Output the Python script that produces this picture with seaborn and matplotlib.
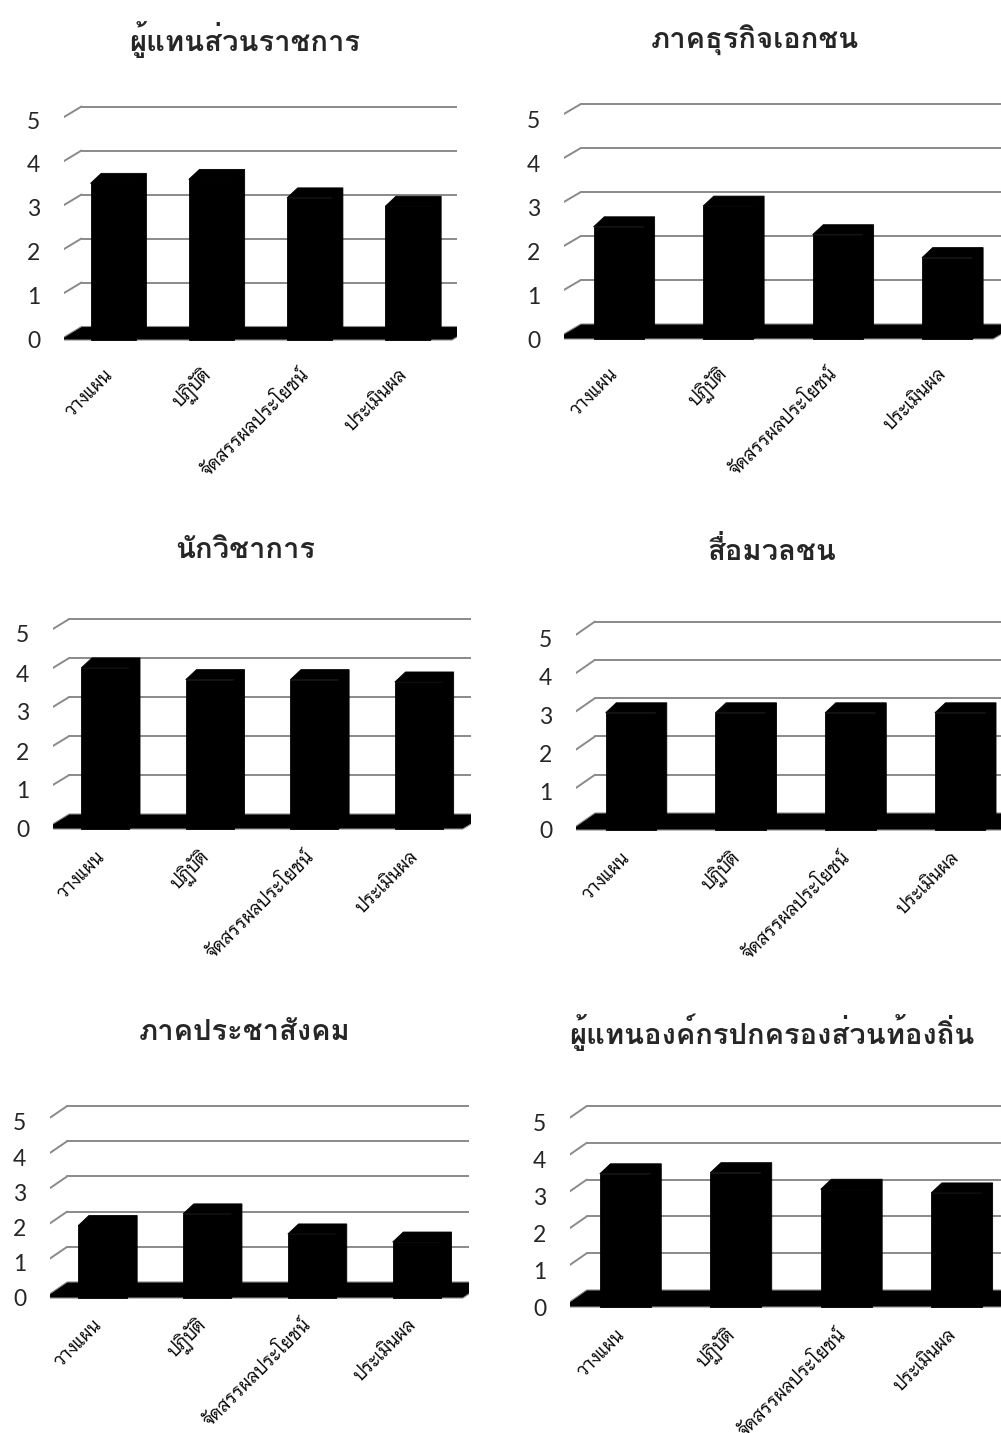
import matplotlib
matplotlib.use("Agg")
import matplotlib.pyplot as plt
from matplotlib.patches import Polygon
import pandas as pd
import seaborn as sns

# ---- data -------------------------------------------------------------
categories = ["วางแผน", "ปฏิบัติ", "จัดสรรผลประโยชน์", "ประเมินผล"]
titles = [
    "ผู้แทนส่วนราชการ",
    "ภาคธุรกิจเอกชน",
    "นักวิชาการ",
    "สื่อมวลชน",
    "ภาคประชาสังคม",
    "ผู้แทนองค์กรปกครองส่วนท้องถิ่น",
]
gov_agency = [3.56, 3.65, 3.23, 3.04]
private_sector = [2.55, 3.02, 2.37, 1.85]
academics = [4.13, 3.83, 3.83, 3.77]
mass_media = [3.06, 3.06, 3.06, 3.06]
civil_society = [2.06, 2.39, 1.82, 1.59]
local_government = [3.62, 3.65, 3.20, 3.10]
y_ticks = [0, 1, 2, 3, 4, 5]

series = [gov_agency, private_sector, academics, mass_media, civil_society, local_government]

sns.set_theme(style="white")
plt.rcParams["font.family"] = ["Loma", "DejaVu Sans"]

# ---- layout (pixels) ------------------------------------------------------
W, H = 1001, 1433
# xfl, yf, px_cat, px_u, wall_dx, wall_dy, offset, title_x, title_y, label_gap
layout = [
    (64, 340, 92.0, 44.0, 21, 13.5, 0.55, 245, 40, 31),
    (564, 339, 102.5, 44.0, 24, 15, 0.58, 755, 40, 31),
    (53, 829, 97.8, 39.0, 23, 15, 0.58, 245, 550, 24),
    (576, 830, 103.0, 38.3, 23, 17, 0.55, 772, 552, 24),
    (50, 1298, 98.3, 35.2, 22, 16, 0.56, 245, 1032, 23),
    (570, 1307, 103.7, 36.8, 23, 17, 0.57, 772, 1032, 24),
]

fig = plt.figure(figsize=(W / 100, H / 100), dpi=100)
fig.patch.set_facecolor("white")

grid_c = "#8a8a8a"
label_font = ["Niramit", "Loma", "DejaVu Sans"]

for vals, title, (xfl, yf, pxc, pxu, wdx, wdy, off, tx, ty, gap) in zip(series, titles, layout):
    width_px = 4 * pxc + wdx + 4
    y0, y1 = -0.12, 5 + wdy / pxu + 0.06
    bottom_px = yf - y0 * pxu
    top_px = yf - y1 * pxu
    ax = fig.add_axes([xfl / W, 1 - bottom_px / H, width_px / W, (bottom_px - top_px) / H])
    ax.set_xlim(-off, -off + width_px / pxc)
    ax.set_ylim(y0, y1)

    dx = wdx / pxc      # wall depth in category units
    dy = wdy / pxu      # wall depth in value units
    xf0, xf1 = -off, -off + 4
    xb0, xb1 = xf0 + dx, xf1 + dx

    # back wall and side wall grid
    for k in y_ticks[1:]:
        ax.plot([xb0, xb1], [k + dy, k + dy], color=grid_c, lw=1.4, zorder=1)
        ax.plot([xf0, xb0], [k, k + dy], color=grid_c, lw=1.4, zorder=1)
    ax.plot([xf0, xf0], [0, 5], color=grid_c, lw=1.4, zorder=1)

    # floor slab
    ax.add_patch(Polygon([(xf0, 0), (xf1, 0), (xb1, dy), (xb0, dy)], closed=True,
                         facecolor="black", edgecolor=grid_c, lw=0.8, zorder=2))

    df = pd.DataFrame({"cat": categories, "val": vals})
    sns.barplot(data=df, x="cat", y="val", order=categories, color="black",
                saturation=1, width=0.46, ax=ax, zorder=3,
                edgecolor="black", linewidth=0.6)

    # top and side faces of each column
    bdx, bdy = 10 / pxc, 10 / pxu
    for p in list(ax.patches):
        if isinstance(p, Polygon):
            continue
        x0 = p.get_x()
        x1 = x0 + p.get_width()
        h = p.get_height()
        ax.add_patch(Polygon([(x0, h), (x0 + bdx, h + bdy), (x1 + bdx, h + bdy),
                              (x1 + bdx, bdy), (x1, 0), (x1, h)], closed=True,
                             facecolor="black", edgecolor="black", lw=0.6, zorder=3))

    for s in ax.spines.values():
        s.set_visible(False)
    ax.set_xlabel("")
    ax.set_ylabel("")
    ax.set_yticks(y_ticks)
    ax.set_yticklabels([str(t) for t in y_ticks], fontsize=16.5, family=["Lato", "DejaVu Sans"])
    ax.tick_params(axis="y", length=0, pad=17)

    # slanted category labels under each column
    ax.set_xticks(range(len(categories)))
    ax.set_xticklabels([])
    ax.tick_params(axis="x", length=0)
    for i, cat in enumerate(categories):
        ax.annotate(cat, xy=(i, 0), xycoords="data",
                    xytext=(0, -(gap + 5)), textcoords="offset pixels",
                    rotation=45, rotation_mode="anchor", ha="right", va="baseline",
                    fontsize=12.5, color="black", family=label_font,
                    annotation_clip=False)
    ax.set_facecolor("none")

    fig.text(tx / W, 1 - ty / H, title, ha="center", va="center",
             fontsize=21, fontweight="bold")

fig.savefig("out.png", dpi=100)
